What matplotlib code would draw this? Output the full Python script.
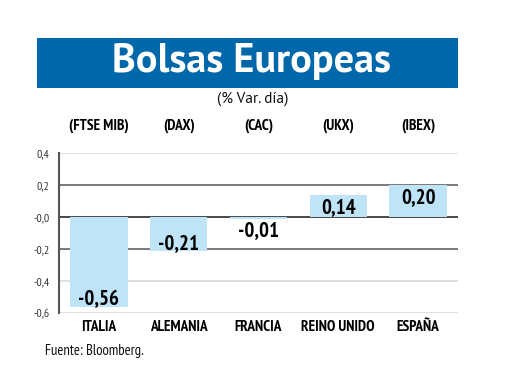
import matplotlib
matplotlib.use("Agg")
import matplotlib.pyplot as plt
from matplotlib.patches import Rectangle
import matplotlib.transforms as mtransforms

categories = ["ITALIA", "ALEMANIA", "FRANCIA", "REINO UNIDO", "ESPAÑA"]
tickers = ["(FTSE MIB)", "(DAX)", "(CAC)", "(UKX)", "(IBEX)"]
values = [-0.56, -0.21, -0.01, 0.14, 0.20]
value_labels = ["-0,56", "-0,21", "-0,01", "0,14", "0,20"]
yticks = [0.4, 0.2, 0.0, -0.2, -0.4, -0.6]
ytick_labels = ["0,4", "0,2", "-0,0", "-0,2", "-0,4", "-0,6"]
grid_colors = ["#dcdcdc", "#707070", "#3a3a3a", "#707070", "#dcdcdc", "#dcdcdc"]

W, H = 520, 390
fig = plt.figure(figsize=(W/100, H/100), dpi=100)
fig.patch.set_facecolor("white")

NARROW = ["PT Sans Narrow", "DejaVu Sans"]
REG = ["PT Sans", "DejaVu Sans"]

def fx(px): return px / W
def fy(py): return 1 - py / H

# Title box
fig.patches.append(Rectangle((fx(37), fy(88)), fx(458) - fx(37), (88 - 38) / H,
                             transform=fig.transFigure, facecolor="#0067ab",
                             edgecolor="none", zorder=0))
fig.text(fx(251), fy(61), "Bolsas Europeas", color="white", fontsize=29,
         fontweight="bold", family=REG, ha="center", va="center")
fig.text(fx(253), fy(99), "(% Var. día)", color="#111111", fontsize=11,
         family=REG, ha="center", va="center")

ax = fig.add_axes([fx(59), fy(313), fx(458) - fx(59), (313 - 153) / H])
ax.set_xlim(-0.5, len(categories) - 0.5)
ax.set_ylim(-0.6, 0.4)

for yv, c in zip(yticks, grid_colors):
    ax.axhline(yv, color=c, lw=1.3, zorder=1)

x = list(range(len(categories)))
ax.bar(x, values, width=0.72, color="#bfe4f8", zorder=2)

for xi, v, lab in zip(x, values, value_labels):
    if v <= -0.1:
        ax.text(xi, v - 0.012, lab, ha="center", va="bottom", fontsize=15,
                fontweight="bold", family=NARROW, zorder=3)
    elif v < 0:
        ax.text(xi, v - 0.017, lab, ha="center", va="top", fontsize=15,
                fontweight="bold", family=NARROW, zorder=3)
    else:
        ax.text(xi, v - 0.02, lab, ha="center", va="top", fontsize=15,
                fontweight="bold", family=NARROW, zorder=3)

ax.set_yticks(yticks)
ax.set_yticklabels(ytick_labels, fontsize=8.5, color="#333333", family=NARROW)
ax.tick_params(axis="y", length=0, pad=7)
ax.set_xticks(x)
ax.set_xticklabels(categories, fontsize=11, fontweight="bold", family=NARROW)
ax.tick_params(axis="x", length=0, pad=5)
for s in ["top", "right", "bottom"]:
    ax.spines[s].set_visible(False)
ax.spines["left"].set_color("#555555")
ax.spines["left"].set_linewidth(1.5)

trans = mtransforms.blended_transform_factory(ax.transData, fig.transFigure)
for xi, t in zip(x, tickers):
    ax.text(xi, fy(126), t, transform=trans, ha="center", va="center",
            fontsize=11, fontweight="bold", family=NARROW)

fig.text(fx(45), fy(351), "Fuente: Bloomberg.", fontsize=10.5, family=NARROW,
         ha="left", va="center", color="#111111")

fig.savefig("out.png", dpi=100, facecolor="white")
